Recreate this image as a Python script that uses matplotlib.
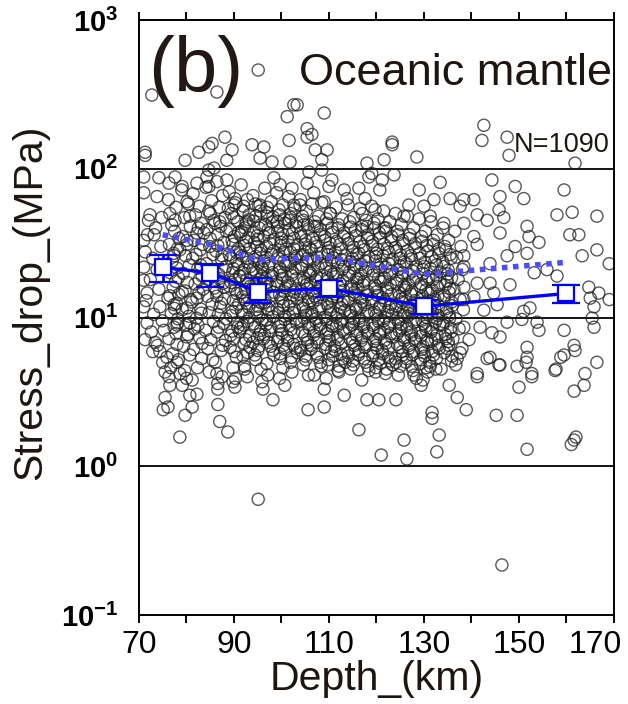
import matplotlib
matplotlib.use('Agg')
import matplotlib.pyplot as plt
import matplotlib.transforms as mtransforms

plt.rcParams['font.family'] = ['Liberation Sans', 'DejaVu Sans']
plt.rcParams['mathtext.fontset'] = 'custom'
plt.rcParams['mathtext.rm'] = 'Liberation Sans'
plt.rcParams['mathtext.bf'] = 'Liberation Sans:bold'

# events: (depth km, stress drop MPa)
# sparse events above 100 MPa
upper_pts = [
    (95.1, 461), (72.7, 313), (86.4, 328), (102.6, 269), (101.2, 224), (101.6, 155),
    (88.1, 163), (85.4, 148), (84.7, 140), (82.6, 129), (79.7, 114), (89.6, 134),
    (88.5, 114), (93.8, 145), (96.3, 140), (95.5, 118), (98.0, 111), (101.8, 111),
    (71.3, 129), (71.3, 123), (85.8, 101), (84.7, 98),
    (103.3, 269), (109.0, 237), (105.4, 186), (105.4, 163), (106.4, 170), (107.1, 134),
    (109.6, 134), (108.5, 115), (123.3, 151), (123.3, 145), (118.0, 109), (121.6, 115),
    (128.5, 120), (142.6, 196), (142.2, 155), (147.5, 163), (147.9, 123), (161.8, 109),
]

# sparse events between 40 and 100 MPa
high_pts = [
    (71.0, 88), (74.2, 87), (77.6, 88), (76.3, 80), (79.1, 76), (82.2, 80), (84.7, 76),
    (84.3, 88), (88.5, 84), (71.0, 69), (73.8, 65), (80.1, 60), (90.2, 63), (90.0, 57),
    (95.5, 57), (98.4, 87), (99.7, 78), (102.2, 74), (102.6, 57), (72.3, 49), (74.8, 47),
    (76.5, 50), (80.7, 48), (85.0, 50), (86.0, 43), (92.7, 44), (97.0, 48), (99.1, 44),
    (101.6, 45), (105.8, 95), (108.5, 98), (105.4, 80), (110.6, 84), (110.0, 76),
    (106.8, 69), (118.4, 88), (121.2, 84), (123.7, 91), (119.0, 93), (113.2, 72),
    (116.3, 74), (120.7, 72), (129.0, 72), (133.4, 81), (113.8, 63), (117.6, 63),
    (119.7, 53), (108.5, 59), (103.9, 57), (126.8, 57), (130.0, 56), (135.5, 63),
    (132.1, 62), (110.2, 50), (117.0, 50), (125.8, 48), (131.3, 48), (134.2, 43),
    (104.7, 42), (107.5, 41), (118.0, 41), (121.6, 40), (144.3, 84), (149.2, 76),
    (151.0, 63), (146.0, 65), (159.5, 72), (138.4, 62), (140.5, 62), (137.6, 56),
    (145.8, 53), (161.2, 51), (158.0, 49), (166.4, 48), (141.2, 49), (143.3, 45),
    (146.8, 47), (151.7, 41), (138.4, 43),
]

# deeper events (beyond 137 km) below 40 MPa
deep_pts = [
    (140.5, 35), (141.2, 31), (146.0, 37), (152.1, 35), (154.2, 32), (149.2, 30),
    (151.7, 27), (160.7, 36), (162.6, 36), (163.3, 26), (166.4, 28.5), (169.0, 23),
    (138.4, 26), (138.4, 22), (143.9, 23), (147.5, 26), (153.2, 20), (155.9, 21),
    (158.0, 19), (148.1, 16.6), (141.2, 17), (143.9, 17), (164.7, 16), (166.8, 14.6),
    (169.0, 13.2), (165.8, 11.8), (165.0, 13.5), (138.4, 16), (138.4, 13.2), (140.5, 13.8),
    (144.7, 14.6), (142.6, 11.2), (145.4, 12.2), (151.0, 11), (152.3, 11.6), (153.8, 9.3),
    (154.2, 8.2), (147.5, 9.3), (150.6, 9.7), (138.4, 8.6), (141.8, 8.6), (144.3, 7.9),
    (146.0, 7.4), (139.5, 7.1), (159.5, 8.2), (165.8, 8.6), (165.4, 9.9), (161.6, 6.5),
    (161.8, 6.0), (159.5, 5.6), (151.7, 6.3), (151.7, 5.4), (143.9, 5.4), (146.0, 4.8),
    (137.6, 5.8), (149.6, 4.7), (166.4, 5.0), (163.9, 4.2), (157.6, 4.4), (152.7, 4.2),
    (141.2, 4.2), (163.7, 3.5), (161.6, 3.2), (157.8, 4.5), (152.7, 4.0), (150.0, 3.4),
    (149.6, 2.2), (145.2, 2.2), (151.7, 1.3), (161.6, 1.5), (162.0, 1.57), (161.0, 1.4),
    (146.4, 0.217), (138.9, 2.4), (137.0, 2.9), (141.2, 4.0), (143.3, 5.3), (145.8, 4.8),
    (151.5, 5.0), (158.8, 5.4),
]

# sparse events below 5 MPa, shallower than 137 km, and the left edge
low_pts = [
    (135.3, 3.5), (133.2, 1.62), (132.7, 1.25), (131.7, 2.3), (131.7, 2.1), (125.8, 1.5),
    (126.4, 1.12), (121.0, 1.19), (116.3, 1.76), (118.0, 2.8), (120.5, 2.8), (124.1, 2.8),
    (109.0, 2.5), (109.0, 3.3), (109.4, 3.9), (113.2, 3.0), (112.1, 4.3), (129.4, 3.5),
    (127.9, 4.1), (133.6, 4.5), (136.7, 4.8), (95.1, 0.60), (78.6, 1.57), (88.7, 1.7),
    (87.0, 2.0), (79.7, 2.2), (75.1, 2.4), (76.1, 2.5), (81.2, 2.5), (86.6, 2.6),
    (75.5, 2.9), (80.7, 3.0), (76.5, 3.5), (79.1, 3.5), (82.2, 3.05), (81.2, 3.8),
    (75.5, 4.3), (86.4, 4.2), (86.6, 3.3), (86.6, 3.6), (89.8, 3.7), (90.2, 3.4),
    (95.9, 3.7), (96.1, 3.3), (98.2, 2.8), (100.7, 3.5), (105.6, 2.4), (92.3, 4.5),
    (72.9, 5.9), (71.7, 9.2), (71.3, 7.1), (73.4, 6.8), (75.3, 8.2), (74.4, 5.9),
    (75.9, 5.4), (78.0, 5.0), (80.1, 7.4), (78.0, 8.9), (80.7, 9.2), (78.6, 4.2),
    (76.3, 4.0), (71.7, 14.6), (71.0, 11.8), (74.4, 11.8), (76.5, 14), (79.1, 14.8),
    (77.4, 12.2), (80.1, 11.6), (71.0, 17.8), (71.0, 21.8), (71.3, 27.6), (71.0, 33),
    (73.2, 36), (77.4, 26), (78.6, 28.5), (80.1, 33), (83.7, 37),
]

# dense cloud between about 72 and 138 km, first pass
core_pts = [
    (72.0, 45), (73.5, 40), (71.8, 36), (74.6, 30), (72.9, 25), (73.8, 21), (72.4, 18),
    (74.2, 15.5), (71.5, 13), (73.1, 10.5), (74.9, 9.5), (72.6, 8.0), (73.9, 6.5), (75.0, 5.0),
    (76.2, 62), (77.8, 55), (76.9, 42), (77.5, 38), (76.4, 31), (78.1, 29), (77.0, 24),
    (76.6, 20), (78.3, 18.5), (77.2, 16), (76.1, 13.5), (77.9, 12.4), (76.8, 10.6),
    (78.2, 9.8), (77.4, 8.6), (76.3, 7.2), (78.0, 6.6), (77.1, 5.7), (76.7, 4.6),
    (79.0, 72), (80.4, 58), (79.6, 47), (80.8, 41), (79.2, 35), (80.1, 31), (79.8, 26),
    (80.6, 22.5), (79.3, 19.8), (80.2, 17.2), (79.7, 15.1), (80.9, 13.2), (79.1, 11.3),
    (80.5, 10.2), (79.9, 8.9), (80.3, 7.7), (79.4, 6.4), (80.7, 5.6), (79.6, 4.4), (80.0, 3.9),
    (81.4, 68), (82.7, 56), (81.9, 49), (83.1, 43), (82.2, 37), (81.6, 33), (82.9, 28.5),
    (81.3, 25), (82.4, 21.5), (83.3, 19), (81.8, 16.8), (82.6, 14.6), (81.2, 12.7),
    (83.0, 11.4), (82.1, 9.9), (81.7, 8.4), (82.8, 7.3), (81.5, 6.1), (83.2, 5.3), (82.3, 4.6),
    (84.1, 75), (85.3, 61), (84.7, 52), (85.8, 45), (84.3, 39), (85.0, 34), (84.9, 30),
    (85.6, 26.5), (84.2, 23), (85.2, 20.5), (84.6, 18), (85.9, 15.8), (84.4, 13.9),
    (85.4, 12.3), (84.8, 10.8), (85.7, 9.4), (84.0, 8.2), (85.1, 7.1), (84.5, 6.2),
    (85.5, 5.2), (84.8, 4.3),
    (86.4, 82), (87.6, 66), (86.9, 55), (88.1, 47), (87.2, 41), (86.6, 36), (87.9, 32),
    (86.2, 28), (87.4, 24.5), (88.3, 22), (86.8, 19.5), (87.7, 17), (86.3, 15), (88.0, 13.3),
    (87.1, 11.8), (86.7, 10.4), (87.8, 9.1), (86.5, 8.0), (88.2, 7.0), (87.3, 6.0),
    (86.1, 5.0), (87.5, 4.0),
    (89.0, 70), (90.3, 59), (89.5, 50), (90.8, 44), (89.2, 39), (90.1, 35), (89.8, 31),
    (90.5, 27.5), (89.3, 25), (90.9, 22.5), (89.7, 20), (90.2, 18), (89.1, 16.2),
    (90.6, 14.5), (89.9, 13), (90.4, 11.6), (89.4, 10.3), (90.7, 9.2), (89.6, 8.1),
    (90.0, 7.2), (89.2, 6.3), (90.5, 5.4), (89.8, 4.6), (90.3, 3.9),
    (91.5, 78), (92.8, 62), (91.9, 52), (93.1, 45.5), (92.3, 40), (91.4, 36), (92.6, 32.5),
    (93.3, 29), (91.7, 26), (92.9, 23.5), (92.1, 21), (91.3, 19), (93.0, 17), (92.4, 15.4),
    (91.8, 13.8), (92.7, 12.4), (91.6, 11.1), (93.2, 10), (92.0, 8.9), (91.2, 8.0),
    (92.5, 7.1), (93.4, 6.3), (91.9, 5.5), (92.2, 4.7), (92.8, 4.0),
    (94.0, 66), (95.2, 56), (94.6, 48), (95.7, 42), (94.2, 37.5), (95.0, 33.5), (94.9, 30),
    (95.5, 27), (94.3, 24.5), (95.8, 22), (94.7, 20), (95.3, 18), (94.1, 16.3), (95.6, 14.7),
    (94.5, 13.2), (95.1, 11.9), (94.8, 10.7), (95.9, 9.6), (94.4, 8.6), (95.4, 7.7),
    (94.0, 6.8), (95.0, 6.0), (94.6, 5.2), (95.7, 4.5),
    (96.5, 74), (97.8, 60), (96.9, 51), (98.1, 44), (97.2, 39), (96.3, 35), (97.6, 31.5),
    (98.3, 28), (96.7, 25.5), (97.4, 23), (96.1, 21), (98.0, 19), (97.0, 17.2), (96.6, 15.5),
    (97.9, 14), (96.4, 12.6), (97.3, 11.3), (98.2, 10.1), (96.8, 9.0), (97.5, 8.1),
    (96.2, 7.2), (97.7, 6.4), (98.4, 5.6), (96.9, 4.9), (97.1, 4.1),
    (99.0, 69), (100.3, 57), (99.6, 49), (100.8, 43), (99.2, 38), (100.0, 34), (99.8, 30.5),
    (100.5, 27.5), (99.3, 25), (100.9, 22.5), (99.7, 20.3), (100.2, 18.3), (99.1, 16.5),
    (100.6, 14.9), (99.9, 13.4), (100.4, 12), (99.4, 10.8), (100.7, 9.7), (99.5, 8.7),
    (100.1, 7.8), (99.2, 6.9), (100.8, 6.1), (99.8, 5.3), (100.3, 4.6), (99.6, 3.9),
    (101.5, 65), (102.8, 54), (101.9, 47), (103.1, 41), (102.3, 36.5), (101.4, 32.5),
    (102.6, 29), (103.3, 26), (101.7, 23.5), (102.9, 21.3), (102.1, 19.2), (101.3, 17.3),
    (103.0, 15.6), (102.4, 14.1), (101.8, 12.7), (102.7, 11.4), (101.6, 10.3), (103.2, 9.2),
    (102.0, 8.3), (101.2, 7.4), (102.5, 6.6), (103.4, 5.8), (101.9, 5.0), (102.2, 4.3),
    (104.0, 62), (105.2, 52), (104.6, 45), (105.7, 39.5), (104.2, 35), (105.0, 31),
    (104.9, 28), (105.5, 25), (104.3, 22.5), (105.8, 20.3), (104.7, 18.4), (105.3, 16.6),
    (104.1, 15), (105.6, 13.5), (104.5, 12.2), (105.1, 11), (104.8, 9.9), (105.9, 8.9),
    (104.4, 8.0), (105.4, 7.1), (104.0, 6.3), (105.0, 5.5), (104.6, 4.8), (105.7, 4.1),
    (106.5, 58), (107.8, 48), (106.9, 41), (108.1, 36), (107.2, 32), (106.3, 28.5),
    (107.6, 25.5), (108.3, 23), (106.7, 20.8), (107.4, 18.8), (106.1, 17), (108.0, 15.4),
    (107.0, 13.9), (106.6, 12.6), (107.9, 11.4), (106.4, 10.3), (107.3, 9.3), (108.2, 8.4),
    (106.8, 7.6), (107.5, 6.8), (106.2, 6.1), (107.7, 5.4), (108.4, 4.7), (106.9, 4.1),
    (109.0, 60), (110.3, 50), (109.6, 43), (110.8, 37.5), (109.2, 33), (110.0, 29.5),
    (109.8, 26.5), (110.5, 24), (109.3, 21.5), (110.9, 19.5), (109.7, 17.6), (110.2, 15.9),
    (109.1, 14.4), (110.6, 13), (109.9, 11.8), (110.4, 10.6), (109.4, 9.6), (110.7, 8.7),
    (109.5, 7.8), (110.1, 7.0), (109.2, 6.2), (110.8, 5.5), (109.8, 4.8),
    (111.5, 55), (112.8, 46), (111.9, 40), (113.1, 35), (112.3, 31), (111.4, 27.5),
    (112.6, 24.5), (113.3, 22), (111.7, 19.8), (112.9, 17.8), (112.1, 16), (111.3, 14.4),
    (113.0, 13), (112.4, 11.7), (111.8, 10.6), (112.7, 9.6), (111.6, 8.7), (113.2, 7.9),
    (112.0, 7.1), (111.2, 6.4), (112.5, 5.7), (113.4, 5.0), (111.9, 4.4),
    (114.0, 57), (115.2, 47), (114.6, 40.5), (115.7, 35.5), (114.2, 31.5), (115.0, 28),
    (114.9, 25), (115.5, 22.5), (114.3, 20.2), (115.8, 18.2), (114.7, 16.4), (115.3, 14.8),
    (114.1, 13.3), (115.6, 12), (114.5, 10.9), (115.1, 9.8), (114.8, 8.9), (115.9, 8.0),
    (114.4, 7.2), (115.4, 6.5), (114.0, 5.8), (115.0, 5.1), (114.6, 4.5),
    (116.5, 54), (117.8, 45), (116.9, 39), (118.1, 34), (117.2, 30), (116.3, 27), (117.6, 24),
    (118.3, 21.5), (116.7, 19.5), (117.4, 17.5), (116.1, 15.8), (118.0, 14.2), (117.0, 12.8),
    (116.6, 11.6), (117.9, 10.5), (116.4, 9.5), (117.3, 8.6), (118.2, 7.8), (116.8, 7.0),
    (117.5, 6.3), (116.2, 5.6), (117.7, 5.0), (118.4, 4.4), (116.9, 3.8),
    (119.0, 56), (120.3, 46), (119.6, 40), (120.8, 34.5), (119.2, 30.5), (120.0, 27),
    (119.8, 24), (120.5, 21.5), (119.3, 19.3), (120.9, 17.4), (119.7, 15.7), (120.2, 14.1),
    (119.1, 12.7), (120.6, 11.5), (119.9, 10.4), (120.4, 9.4), (119.4, 8.5), (120.7, 7.7),
    (119.5, 6.9), (120.1, 6.2), (119.2, 5.5), (120.8, 4.9), (119.8, 4.3),
    (121.5, 52), (122.8, 44), (121.9, 38), (123.1, 33), (122.3, 29), (121.4, 26), (122.6, 23),
    (123.3, 20.5), (121.7, 18.5), (122.9, 16.7), (122.1, 15.1), (121.3, 13.6), (123.0, 12.3),
    (122.4, 11.1), (121.8, 10), (122.7, 9.1), (121.6, 8.2), (123.2, 7.4), (122.0, 6.7),
    (121.2, 6.0), (122.5, 5.4), (123.4, 4.8), (121.9, 4.2),
    (124.0, 50), (125.2, 42), (124.6, 36), (125.7, 31.5), (124.2, 28), (125.0, 25),
    (124.9, 22.3), (125.5, 20), (124.3, 18), (125.8, 16.3), (124.7, 14.7), (125.3, 13.3),
    (124.1, 12), (125.6, 10.9), (124.5, 9.9), (125.1, 9.0), (124.8, 8.1), (125.9, 7.3),
    (124.4, 6.6), (125.4, 5.9), (124.0, 5.3), (125.0, 4.7), (124.6, 4.1),
    (126.5, 48), (127.8, 40), (126.9, 34), (128.1, 29.5), (127.2, 26), (126.3, 23),
    (127.6, 20.5), (128.3, 18.5), (126.7, 16.7), (127.4, 15.1), (126.1, 13.7), (128.0, 12.4),
    (127.0, 11.2), (126.6, 10.2), (127.9, 9.3), (126.4, 8.4), (127.3, 7.6), (128.2, 6.9),
    (126.8, 6.2), (127.5, 5.6), (126.2, 5.0), (127.7, 4.4), (128.4, 3.9),
    (129.0, 46), (130.3, 38), (129.6, 32.5), (130.8, 28), (129.2, 25), (130.0, 22),
    (129.8, 19.7), (130.5, 17.8), (129.3, 16.1), (130.9, 14.6), (129.7, 13.3), (130.2, 12.1),
    (129.1, 11), (130.6, 10), (129.9, 9.1), (130.4, 8.3), (129.4, 7.5), (130.7, 6.8),
    (129.5, 6.1), (130.1, 5.5), (129.2, 4.9), (130.8, 4.3), (129.8, 3.8),
    (131.5, 44), (132.8, 36), (131.9, 31), (133.1, 27), (132.3, 24), (131.4, 21.3),
    (132.6, 19), (133.3, 17.1), (131.7, 15.4), (132.9, 13.9), (132.1, 12.6), (131.3, 11.4),
    (133.0, 10.3), (132.4, 9.3), (131.8, 8.4), (132.7, 7.6), (131.6, 6.9), (133.2, 6.2),
    (132.0, 5.6), (131.2, 5.0), (132.5, 4.5),
    (134.0, 40), (135.2, 33), (134.6, 28.5), (135.7, 25), (134.2, 22), (135.0, 19.6),
    (134.9, 17.5), (135.5, 15.7), (134.3, 14.1), (135.8, 12.7), (134.7, 11.5), (135.3, 10.4),
    (134.1, 9.4), (135.6, 8.5), (134.5, 7.7), (135.1, 6.9), (134.8, 6.2), (135.9, 5.5),
    (136.5, 38), (137.8, 30), (136.9, 25.5), (138.1, 21), (137.2, 18), (136.3, 15.5),
    (137.6, 13.2), (138.3, 11.3), (136.7, 9.8), (137.4, 8.4), (136.1, 7.2), (138.0, 6.2),
    (137.0, 5.3),
]

# dense cloud, second pass over the darkest part
core2_pts = [
    (77.6, 45), (78.4, 34), (77.3, 27), (78.0, 21.5), (77.7, 17.5), (78.4, 14.3), (77.5, 11.5),
    (78.1, 9.2), (77.8, 7.8), (78.3, 5.2),
    (82.5, 40), (83.4, 31), (82.0, 26.5), (83.0, 22.5), (82.7, 18), (83.5, 15.5), (82.2, 13.5),
    (83.1, 10.7), (82.4, 8.9), (83.3, 6.7),
    (87.0, 44), (88.4, 38), (86.6, 30.5), (87.5, 26), (88.0, 20.8), (86.9, 18.3), (87.9, 16),
    (86.4, 13.9), (87.3, 12.5), (88.3, 9.8), (86.8, 8.6), (87.6, 6.5),
    (88.8, 54), (90.0, 47), (91.0, 37.5), (89.6, 33), (90.9, 29), (89.0, 26.5), (90.6, 24),
    (89.9, 21.3), (91.1, 19), (89.4, 17.2), (90.3, 15.3), (91.0, 12.3), (89.7, 11),
    (90.8, 8.6), (89.3, 7.6), (90.1, 5.9),
    (92.0, 56), (93.2, 49), (92.5, 42.5), (91.6, 38), (93.0, 34.5), (92.2, 30.5), (91.3, 27.5),
    (92.6, 25), (93.4, 22), (91.9, 20), (92.7, 18), (93.5, 16.3), (91.5, 14.7), (92.4, 13.1),
    (93.1, 11.7), (91.9, 10.5), (92.8, 9.4), (91.4, 8.5), (93.3, 7.5), (92.1, 6.7), (92.9, 5.8),
    (94.5, 58), (95.6, 52), (94.1, 44.5), (95.3, 40), (94.9, 35.5), (94.3, 32), (95.7, 28.5),
    (94.6, 25.8), (95.2, 23.2), (94.0, 21), (95.9, 19), (94.8, 17.2), (95.4, 15.5), (94.2, 14),
    (95.8, 12.5), (94.6, 11.3), (95.2, 10.1), (94.1, 9.1), (95.6, 8.2), (94.9, 7.3),
    (95.3, 6.4), (94.4, 5.6),
    (97.0, 55), (98.2, 47.5), (96.6, 42), (97.5, 37), (98.4, 33.5), (96.9, 30), (97.8, 26.8),
    (96.3, 24), (97.2, 22), (98.1, 20), (96.7, 18.2), (97.6, 16.3), (98.3, 14.8), (96.5, 13.3),
    (97.4, 12), (98.0, 10.8), (96.8, 9.6), (97.7, 8.6), (96.4, 7.7), (97.3, 6.8), (98.2, 6.0),
    (99.5, 53), (100.6, 46), (99.2, 41), (100.2, 36.5), (99.9, 32), (100.9, 29), (99.4, 26.3),
    (100.5, 23.8), (99.7, 21.5), (100.1, 19.3), (99.0, 17.5), (100.8, 15.8), (99.6, 14.2),
    (100.3, 12.7), (99.1, 11.4), (100.7, 10.2), (99.8, 9.2), (100.0, 8.2), (99.3, 7.3),
    (100.4, 6.5), (99.7, 5.7),
    (102.0, 50), (103.2, 44), (101.6, 38.5), (102.6, 34), (103.4, 30.5), (101.9, 27.5),
    (102.8, 24.8), (101.4, 22.3), (102.3, 20.2), (103.1, 18.2), (101.8, 16.4), (102.7, 14.8),
    (103.3, 13.3), (101.5, 12), (102.4, 10.8), (103.0, 9.7), (101.7, 8.8), (102.6, 7.9),
    (101.3, 7.0), (102.9, 6.2), (102.1, 5.4),
    (104.4, 48), (105.5, 42), (104.0, 37), (105.1, 33), (105.8, 29.5), (104.5, 26.5),
    (105.3, 23.8), (104.2, 21.4), (105.9, 19.3), (104.8, 17.4), (105.4, 15.7), (104.0, 14.2),
    (105.7, 12.8), (104.6, 11.6), (105.2, 10.4), (104.3, 9.4), (105.8, 8.5), (104.9, 7.6),
    (105.5, 6.8), (104.1, 6.0), (105.1, 5.2),
    (107.0, 44), (108.2, 39), (106.5, 34), (107.4, 30), (108.4, 27), (106.8, 24.3),
    (107.7, 21.9), (106.2, 19.8), (107.2, 17.9), (108.1, 16.2), (106.7, 14.6), (107.5, 13.2),
    (108.3, 11.9), (106.4, 10.8), (107.3, 9.8), (108.0, 8.9), (106.9, 8.0), (107.8, 7.2),
    (106.3, 6.5), (107.4, 5.7), (108.2, 5.0),
    (109.5, 46), (110.6, 40), (109.1, 35), (110.2, 31.5), (109.8, 28), (110.9, 25.3),
    (109.4, 22.8), (110.4, 20.5), (109.7, 18.5), (110.1, 16.7), (109.0, 15.1), (110.8, 13.7),
    (109.6, 12.4), (110.3, 11.2), (109.2, 10.1), (110.7, 9.1), (109.8, 8.2), (110.0, 7.4),
    (109.3, 6.6), (110.5, 5.9), (109.9, 5.2),
    (112.0, 42), (113.2, 37), (111.6, 32.5), (112.6, 29), (113.4, 26), (111.9, 23.3),
    (112.8, 21), (111.4, 18.8), (112.3, 16.9), (113.1, 15.2), (111.8, 13.7), (112.7, 12.3),
    (113.3, 11.1), (111.5, 10), (112.4, 9.1), (113.0, 8.2), (111.7, 7.4), (112.6, 6.7),
    (111.3, 6.0), (112.9, 5.3), (112.1, 4.7),
    (114.4, 44), (115.5, 38.5), (114.0, 33.5), (115.1, 29.7), (115.8, 26.5), (114.5, 23.7),
    (115.3, 21.3), (114.2, 19.2), (115.9, 17.3), (114.8, 15.6), (115.4, 14.1), (114.0, 12.7),
    (115.7, 11.4), (114.6, 10.3), (115.2, 9.3), (114.3, 8.4), (115.8, 7.6), (114.9, 6.8),
    (115.5, 6.1), (114.1, 5.5), (115.1, 4.8),
    (117.0, 41), (118.2, 36), (116.5, 32), (117.4, 28.5), (118.4, 25.5), (116.8, 22.8),
    (117.7, 20.5), (116.2, 18.4), (117.2, 16.6), (118.1, 15), (116.7, 13.5), (117.5, 12.2),
    (118.3, 11), (116.4, 9.9), (117.3, 9.0), (118.0, 8.1), (116.9, 7.3), (117.8, 6.6),
    (116.3, 5.9), (117.4, 5.3), (118.2, 4.7),
    (119.5, 43), (120.6, 37), (119.1, 32.5), (120.2, 28.8), (119.8, 25.7), (120.9, 22.9),
    (119.4, 20.5), (120.4, 18.4), (119.7, 16.5), (120.1, 14.9), (119.0, 13.4), (120.8, 12.1),
    (119.6, 10.9), (120.3, 9.8), (119.2, 8.9), (120.7, 8.0), (119.8, 7.2), (120.0, 6.5),
    (119.3, 5.8), (120.5, 5.2), (119.9, 4.6),
    (122.0, 40), (123.2, 35), (121.6, 31), (122.6, 27.5), (123.4, 24.5), (121.9, 21.8),
    (122.8, 19.5), (121.4, 17.5), (122.3, 15.8), (123.1, 14.3), (121.8, 12.9), (122.7, 11.7),
    (123.3, 10.5), (121.5, 9.5), (122.4, 8.6), (123.0, 7.8), (121.7, 7.0), (122.6, 6.3),
    (121.3, 5.7), (122.9, 5.1), (122.1, 4.5),
    (124.4, 38), (125.5, 33), (124.0, 29.5), (125.1, 26.3), (125.8, 23.5), (124.5, 21),
    (125.3, 18.9), (124.2, 17), (125.9, 15.3), (124.8, 13.9), (125.4, 12.6), (124.0, 11.4),
    (125.7, 10.3), (124.6, 9.4), (125.2, 8.5), (124.3, 7.7), (125.8, 7.0), (124.9, 6.3),
    (125.5, 5.6), (124.1, 5.0),
    (127.0, 36), (128.2, 31.5), (126.5, 28), (127.4, 24.8), (128.4, 22), (126.8, 19.6),
    (127.7, 17.7), (126.2, 15.9), (127.2, 14.4), (128.1, 13), (126.7, 11.8), (127.5, 10.7),
    (128.3, 9.7), (126.4, 8.8), (127.3, 8.0), (128.0, 7.2), (126.9, 6.5), (127.8, 5.9),
    (126.3, 5.3), (127.4, 4.7),
    (129.5, 35), (130.6, 30.5), (129.1, 27), (130.2, 23.5), (129.8, 21), (130.9, 18.8),
    (129.4, 16.9), (130.4, 15.3), (129.7, 13.9), (130.1, 12.6), (129.0, 11.5), (130.8, 10.5),
    (129.6, 9.6), (130.3, 8.7), (129.2, 7.9), (130.7, 7.1), (129.8, 6.4), (130.0, 5.8),
    (129.3, 5.2), (130.5, 4.6),
    (132.0, 33), (133.2, 29), (131.6, 25.5), (132.6, 22.5), (133.4, 20.2), (131.9, 18),
    (132.8, 16.2), (131.4, 14.6), (132.3, 13.2), (133.1, 11.9), (131.8, 10.8), (132.7, 9.8),
    (133.3, 8.9), (131.5, 8.0), (132.4, 7.2), (133.0, 6.5), (131.7, 5.9), (132.6, 5.3),
    (131.3, 4.7),
    (134.4, 30), (135.5, 26.5), (134.0, 23.5), (135.1, 20.8), (135.8, 18.5), (134.5, 16.5),
    (135.3, 14.8), (134.2, 13.3), (135.9, 12), (134.8, 10.9), (135.4, 9.9), (134.0, 8.9),
    (135.7, 8.0), (134.6, 7.2), (135.2, 6.5), (134.3, 5.8), (135.8, 5.1),
]

# binned medians with error bars, and the dotted mean line
bin_depth = [75, 85, 95, 110, 130, 160]
bin_median = [21.7, 20.0, 14.9, 15.7, 11.9, 14.5]
bin_upper = [26.5, 23.0, 18.3, 17.5, 13.2, 16.6]
bin_lower = [17.2, 16.1, 12.6, 13.8, 10.6, 12.6]
mean_stress = [36, 31, 24.5, 25.5, 19.5, 23.5]

all_pts = upper_pts + high_pts + deep_pts + low_pts + core_pts + core2_pts
depth = [p[0] for p in all_pts]
stress = [p[1] for p in all_pts]

fig = plt.figure(figsize=(6.28, 7.04), dpi=100)
ax = fig.add_axes([0.2213, 0.1264, 0.7564, 0.8452])

ax.scatter(depth, stress, s=76, facecolors='none', edgecolors=(0.13, 0.13, 0.13, 0.75),
           linewidths=1.0, zorder=2)

for v in [1, 10, 100]:
    ax.axhline(v, color='black', lw=1.3, zorder=1)

ax.plot(bin_depth, mean_stress, color=(0.3, 0.3, 1.0), lw=4,
        linestyle=(0, (1.0, 1.0)), zorder=3)
yerr = [[m - lo for m, lo in zip(bin_median, bin_lower)],
        [hi - m for m, hi in zip(bin_median, bin_upper)]]
ax.errorbar(bin_depth, bin_median, yerr=yerr, color='#0000ff', lw=2.4,
            elinewidth=2, capsize=10, capthick=2.6, marker='s', ms=12,
            mfc='white', mec='#0000ff', mew=1.6, zorder=4)

ax.set_yscale('log')
ax.set_xlim(70, 170)
ax.set_ylim(0.1, 1000)

ax.set_xticks(range(70, 171, 10))
ax.set_xticklabels(['70', '', '90', '', '110', '', '130', '', '150', '', '170'],
                   fontsize=23)
ax.tick_params(axis='x', which='both', direction='out', length=6, width=1.4,
               top=True, bottom=True, pad=5)
# last label sits pulled in from the right edge, as in the original
last = ax.get_xticklabels()[-1]
last.set_horizontalalignment('right')
last.set_transform(last.get_transform() +
                   mtransforms.ScaledTranslation(0.08, 0, fig.dpi_scale_trans))

ax.set_yticks([0.1, 1, 10, 100, 1000])
ax.set_yticklabels([r'$\mathbf{10^{-1}}$', r'$\mathbf{10^{0}}$', r'$\mathbf{10^{1}}$',
                    r'$\mathbf{10^{2}}$', r'$\mathbf{10^{3}}$'], fontsize=21)
ax.tick_params(axis='y', which='both', length=0, pad=15)
ax.yaxis.set_minor_locator(matplotlib.ticker.NullLocator())
for s in ax.spines.values():
    s.set_linewidth(1.4)

ax.set_xlabel('Depth_(km)', fontsize=29.5, color='#1e1410', labelpad=0)
ax.set_ylabel('Stress_drop_(MPa)', fontsize=29.5, color='#1e1410')
ax.yaxis.set_label_coords(-0.19, 0.525)

ax.text(0.02, 0.975, '(b)', transform=ax.transAxes, fontsize=56, color='#231815',
        va='top', ha='left')
ax.text(0.997, 0.945, 'Oceanic mantle', transform=ax.transAxes, fontsize=32.5,
        color='#1e1410', va='top', ha='right')
ax.text(0.99, 0.79, 'N=1090', transform=ax.transAxes, fontsize=19.5,
        color='#1e1410', va='center', ha='right')

fig.savefig('out.png', dpi=100)
